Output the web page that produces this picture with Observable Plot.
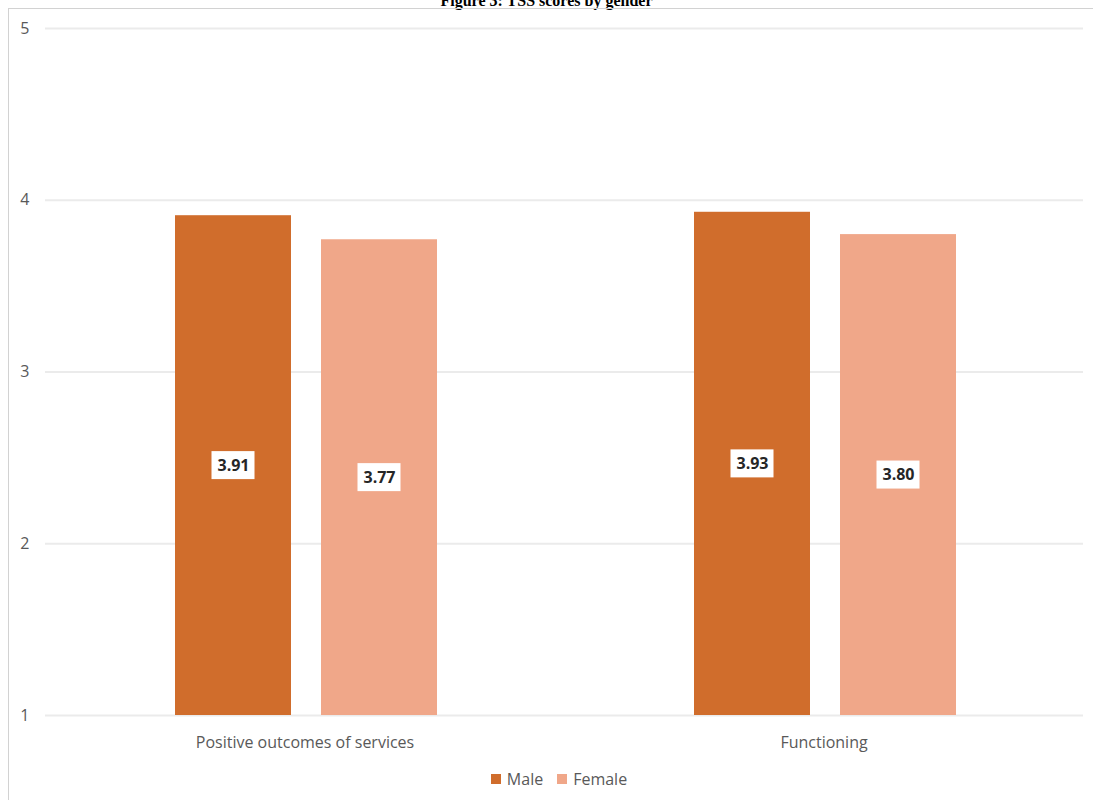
<!DOCTYPE html>
<html>
<head>
<meta charset="utf-8">
<script src="https://cdn.jsdelivr.net/npm/d3@7"></script>
<script src="https://cdn.jsdelivr.net/npm/@observablehq/plot@0.6"></script>
<style>
  html, body { margin: 0; padding: 0; background: #fff; overflow: hidden; }
  body { width: 1093px; height: 800px; position: relative; }
  #title { position: absolute; left: 0; width: 1093px; top: -7px; text-align: center;
    font: bold 16px "Liberation Serif", "Times New Roman", serif; line-height: 16px; color: #000; }
  #frameTop { position: absolute; left: 8px; top: 8px; width: 1085px; height: 1px; background: #d2d2d2; }
  #frameLeft { position: absolute; left: 8px; top: 8px; width: 1px; height: 792px; background: #d2d2d2; }
  #chart { position: absolute; left: 0; top: 0; }
  #legend { position: absolute; top: 768px; left: 0; width: 1118px; display: flex; justify-content: center;
    font: 16px "Open Sans", sans-serif; color: #595959; gap: 14px; }
  .item { display: flex; align-items: center; gap: 6px; }
  .sw { width: 10px; height: 10px; display: inline-block; }
</style>
</head>
<body>
<div id="title">Figure 3: TSS scores by gender</div>
<div id="frameTop"></div>
<div id="frameLeft"></div>
<div id="chart"></div>
<div id="legend"></div>
<script>
const categories = ["Positive outcomes of services", "Functioning"];
const genders = ["Male", "Female"];
const maleScores = [3.91, 3.93];
const femaleScores = [3.77, 3.80];
const yTicks = [1, 2, 3, 4, 5];
const colors = ["#d06d2c", "#f0a789"];

const data = categories.flatMap((c, i) => [
  {category: c, gender: "Male", value: maleScores[i]},
  {category: c, gender: "Female", value: femaleScores[i]}
]);
const mid = d => (1 + d.value) / 2;

const chart = Plot.plot({
  width: 1093,
  height: 760,
  marginTop: 28,
  marginBottom: 45,
  marginLeft: 44,
  marginRight: 10,
  style: {fontFamily: "'Open Sans', sans-serif", fontSize: "16px", color: "#595959", background: "transparent"},
  facet: {data, x: "category"},
  fx: {domain: categories, padding: 0, label: null, axis: "bottom", tickSize: 0, tickPadding: 21},
  x: {domain: genders, axis: null, paddingInner: 0.204, paddingOuter: 0.869, align: 0.505},
  y: {domain: [1, 5], ticks: yTicks, tickSize: 0, tickPadding: 16, label: null, tickFormat: d3.format("d")},
  color: {domain: genders, range: colors},
  marks: [
    Plot.ruleY(yTicks, {stroke: "#ebebeb", strokeWidth: 2}),
    Plot.barY(data, {x: "gender", y1: 1, y2: "value", fill: "gender"}),
    Plot.barY(data, {x: "gender", y1: mid, y2: mid, fill: "white",
      insetLeft: 36.5, insetRight: 36.5, insetTop: -14, insetBottom: -14}),
    Plot.text(data, {x: "gender", y: mid, text: d => d.value.toFixed(2),
      fontWeight: "bold", fontSize: 16, fill: "#262626"})
  ]
});
document.getElementById("chart").appendChild(chart);

const legend = document.getElementById("legend");
genders.forEach((g, i) => {
  const item = document.createElement("div");
  item.className = "item";
  const sw = document.createElement("span");
  sw.className = "sw";
  sw.style.background = colors[i];
  const label = document.createElement("span");
  label.textContent = g;
  item.appendChild(sw);
  item.appendChild(label);
  legend.appendChild(item);
});
</script>
</body>
</html>
